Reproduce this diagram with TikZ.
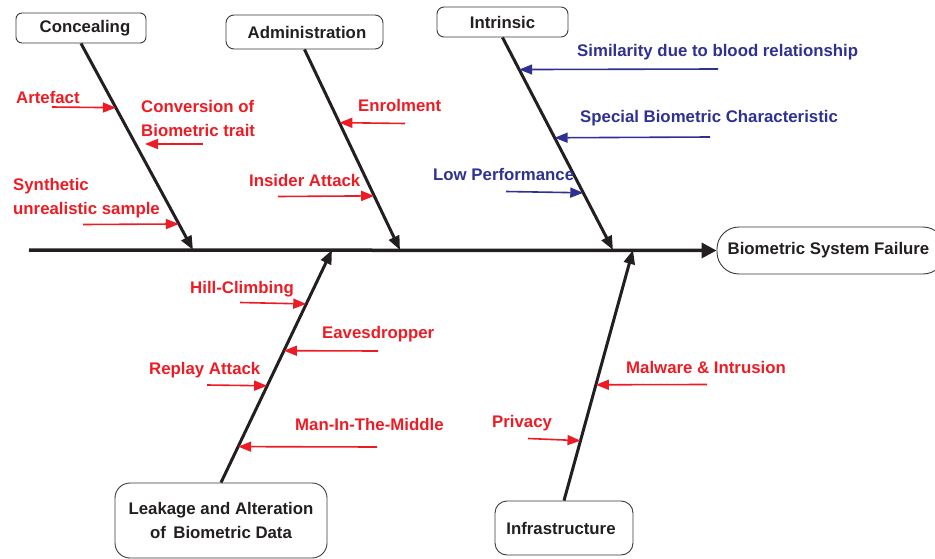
\documentclass[tikz,border=0pt]{standalone}
\usepackage{fontspec}
\setmainfont{Liberation Sans}
\usetikzlibrary{arrows.meta,calc}
\definecolor{causered}{HTML}{ED1C24}
\definecolor{causeblue}{HTML}{2E3192}
\definecolor{inkblack}{HTML}{231F20}
\definecolor{framegray}{HTML}{3A3A3A}
\begin{document}
\begin{tikzpicture}[x=1pt,y=-1pt,
  txt/.style={inner sep=0pt,anchor=base west,font=\fontsize{16.8}{19}\selectfont\bfseries},
  redtxt/.style={txt,text=causered},
  bluetxt/.style={txt,text=causeblue},
  catbox/.style={draw=framegray,line width=0.9pt,text=inkblack,inner sep=0pt,
    font=\fontsize{16.8}{24}\selectfont\bfseries,align=center},
  bone/.style={draw=inkblack,line width=3pt,-{Triangle[length=14pt,width=11pt]}},
  spine/.style={draw=inkblack,line width=3.5pt,-{Triangle[length=15pt,width=15pt]}},
  subred/.style={draw=causered,line width=1.6pt,-{Triangle[length=13pt,width=10pt]}},
  subblue/.style={draw=causeblue,line width=1.6pt,-{Triangle[length=13pt,width=10pt]}}
]
\useasboundingbox (0,0) rectangle (935,559);

% effect and category boxes
\node[catbox,rounded corners=22pt,minimum width=228pt,minimum height=47pt] (effect) at (831,250.5) {Biometric System Failure\hspace*{5pt}};
\node[catbox,rounded corners=6pt,minimum width=130pt,minimum height=30pt] (conc) at (81,28) {\hspace*{8pt}Concealing};
\node[catbox,rounded corners=8pt,minimum width=157pt,minimum height=34pt] (admin) at (304.5,32) {\hspace*{5pt}Administration};
\node[catbox,rounded corners=7pt,minimum width=131pt,minimum height=30pt] (intr) at (502.5,22) {Intrinsic};
\node[catbox,rounded corners=15pt,minimum width=212pt,minimum height=75pt] (leak) at (221,520.5) {Leakage and Alteration\\of\, Biometric Data};
\node[catbox,rounded corners=12pt,minimum width=138pt,minimum height=54pt] (infra) at (564,528) {Infrastructure\hspace*{6pt}};

% spine and the points where the bones meet it
\coordinate (tail) at (29,250);
\coordinate (jc) at (193,250);
\coordinate (ja) at (400,250);
\coordinate (ji) at (613,250);
\coordinate (jl) at (332,250);
\coordinate (jf) at (633,250);
\draw[spine] (tail) -- (effect.west);

% bones
\draw[bone] (conc.south) -- (jc);
\draw[bone] (admin.south) -- (ja);
\draw[bone] (intr.south) -- (ji);
\draw[bone] (leak.north) -- (jl);
\draw[bone] (infra.north) -- (jf);

% points on the bones
\coordinate (c1) at ($(conc.south)!0.311!(jc)$);
\coordinate (c3) at ($(conc.south)!0.874!(jc)$);
\coordinate (a1) at ($(admin.south)!0.365!(ja)$);
\coordinate (a2) at ($(admin.south)!0.73!(ja)$);
\coordinate (i1) at ($(intr.south)!0.151!(ji)$);
\coordinate (i2) at ($(intr.south)!0.472!(ji)$);
\coordinate (i3) at ($(intr.south)!0.731!(ji)$);
\coordinate (l1) at ($(leak.north)!0.768!(jl)$);
\coordinate (l2) at ($(leak.north)!0.567!(jl)$);
\coordinate (l3) at ($(leak.north)!0.416!(jl)$);
\coordinate (l4) at ($(leak.north)!0.1545!(jl)$);
\coordinate (f1) at ($(infra.north)!0.462!(jf)$);
\coordinate (f2) at ($(infra.north)!0.239!(jf)$);

% Concealing causes
\node[redtxt] (tArt) at (16,104) {Artefact};
\coordinate (sArt) at (52,107);
\draw[subred] (sArt) -- (c1);
\node[redtxt] (tConv1) at (141,113) {Conversion of};
\node[redtxt] (tConv2) at (141,137) {Biometric trait};
\coordinate (sConv) at (203,144);
\coordinate (eConv) at (145,144);
\draw[subred] (sConv) -- (eConv);
\node[redtxt] (tSyn1) at (13,191) {Synthetic};
\node[redtxt] (tSyn2) at (13,214.5) {unrealistic sample};
\coordinate (sSyn) at (83,224.5);
\draw[subred] (sSyn) -- (c3);

% Administration causes
\node[redtxt] (tEnr) at (358,112) {Enrolment};
\coordinate (sEnr) at (405,123.5);
\draw[subred] (sEnr) -- (a1);
\node[redtxt] (tIns) at (249,186) {Insider Attack};
\coordinate (sIns) at (278,196.5);
\draw[subred] (sIns) -- (a2);

% Intrinsic causes
\node[bluetxt] (tSim) at (577,57) {Similarity due to blood relationship};
\coordinate (sSim) at (718,69);
\draw[subblue] (sSim) -- (i1);
\node[bluetxt] (tSpe) at (580,123) {Special Biometric Characteristic};
\coordinate (sSpe) at (710,137);
\draw[subblue] (sSpe) -- (i2);
\node[bluetxt] (tLow) at (433,181) {Low Performance};
\coordinate (sLow) at (506,191.5);
\draw[subblue] (sLow) -- (i3);

% Leakage and Alteration causes
\node[redtxt] (tHill) at (190,293) {Hill-Climbing};
\coordinate (sHill) at (240,302.5);
\draw[subred] (sHill) -- (l1);
\node[redtxt] (tEav) at (322,338) {Eavesdropper};
\coordinate (sEav) at (378,351);
\draw[subred] (sEav) -- (l2);
\node[redtxt] (tRep) at (149,374) {Replay Attack};
\coordinate (sRep) at (207,385);
\draw[subred] (sRep) -- (l3);
\node[redtxt] (tMitm) at (295,430) {Man-In-The-Middle};
\coordinate (sMitm) at (377,447);
\draw[subred] (sMitm) -- (l4);

% Infrastructure causes
\node[redtxt] (tMal) at (626,373) {Malware \& Intrusion};
\coordinate (sMal) at (707,384.5);
\draw[subred] (sMal) -- (f1);
\node[redtxt] (tPri) at (492,427) {Privacy};
\coordinate (sPri) at (528,438.5);
\draw[subred] (sPri) -- (f2);
\end{tikzpicture}
\end{document}
